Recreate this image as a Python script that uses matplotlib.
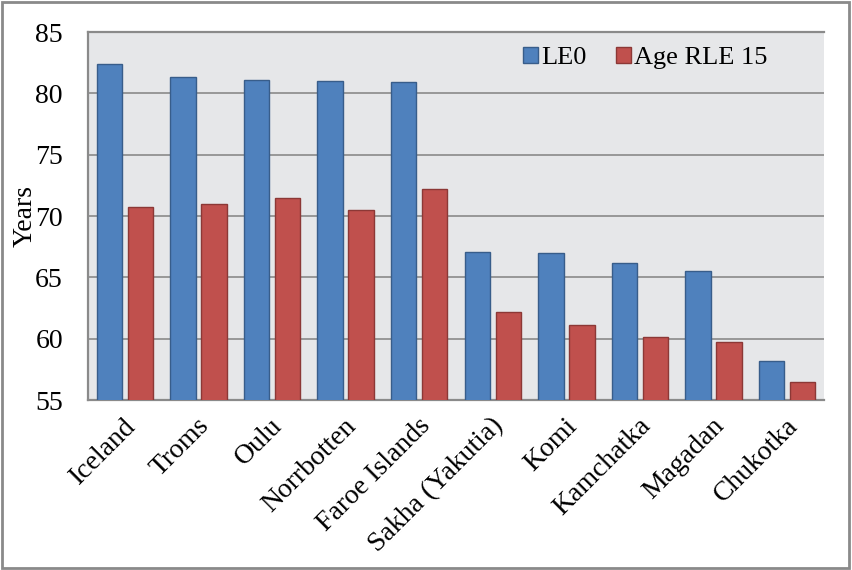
import matplotlib
matplotlib.use("Agg")
from matplotlib import pyplot as plt
from matplotlib import transforms
import numpy as np

plt.rcParams["font.family"] = ["Liberation Serif", "DejaVu Serif"]

regions = ["Iceland", "Troms", "Oulu", "Norrbotten", "Faroe Islands",
           "Sakha (Yakutia)", "Komi", "Kamchatka", "Magadan", "Chukotka"]
le0 = [82.4, 81.3, 81.1, 81.0, 80.9, 67.1, 67.0, 66.2, 65.5, 58.2]
age_rle15 = [70.7, 71.0, 71.5, 70.5, 72.2, 62.2, 61.1, 60.1, 59.7, 56.5]

fig = plt.figure(figsize=(8.52, 5.70), dpi=100)
ax = fig.add_axes([88 / 852, 1 - 400 / 570, (824 - 88) / 852, (400 - 32) / 570])

x = np.arange(len(regions))
w = 0.345
off = 0.21
ax.bar(x - off, le0, w, color="#4F81BD", edgecolor="#385D8A", linewidth=1.0,
       label="LE0", zorder=3)
ax.bar(x + off, age_rle15, w, color="#C0504D", edgecolor="#8C3836", linewidth=1.0,
       label="Age RLE 15", zorder=3)

ax.set_xlim(-0.5, len(regions) - 0.5)
ax.set_ylim(55, 85)
ax.set_yticks(np.arange(55, 86, 5))
ax.set_facecolor("#E6E7E9")
ax.grid(axis="y", color="#8A8A8A", linewidth=1.2, zorder=0)
ax.tick_params(length=0, labelsize=20)
ax.tick_params(axis="y", pad=18)
ax.tick_params(axis="x", pad=16)
ax.set_xticks(x)
ax.set_xticklabels(regions, rotation=45, ha="right", rotation_mode="anchor",
                   va="center", fontsize=20)
# nudge rotated category labels a little to the right of each tick
shift = transforms.ScaledTranslation(7 / 100, 0, fig.dpi_scale_trans)
for lbl in ax.get_xticklabels():
    lbl.set_transform(lbl.get_transform() + shift)

for side in ["left", "bottom", "top"]:
    ax.spines[side].set_color("#8A8A8A")
    ax.spines[side].set_linewidth(1.6)
ax.spines["right"].set_visible(False)

ax.set_ylabel("Years", fontsize=20, labelpad=-2)

ax.legend(loc="upper right", bbox_to_anchor=(0.956, 1.024), ncol=2, frameon=False,
          fontsize=19, handlelength=0.58, handleheight=0.58, handletextpad=0.12,
          columnspacing=1.1)

# outer chart border
fig.patches.append(plt.Rectangle((0.002, 0.003), 0.995, 0.994, transform=fig.transFigure,
                                 fill=False, edgecolor="#8A8A8A", linewidth=2))

fig.savefig("out.png", dpi=100)
